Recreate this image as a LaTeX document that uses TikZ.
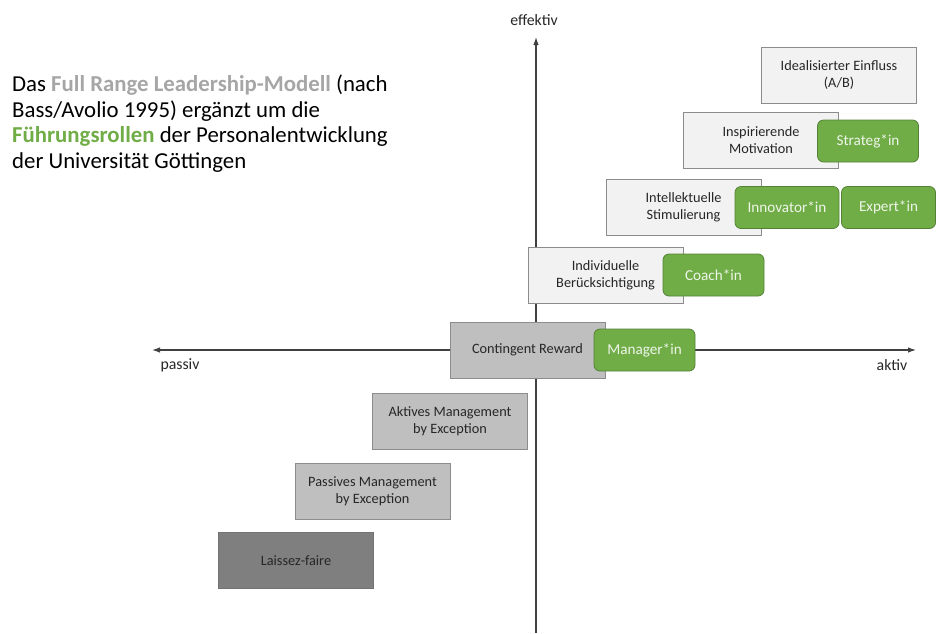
\documentclass[tikz,border=0pt]{standalone}
\usepackage{fontspec}
\setmainfont{Carlito}
\usetikzlibrary{arrows.meta}
\definecolor{boxgrey}{HTML}{F2F2F2}
\definecolor{midgrey}{HTML}{BFBFBF}
\definecolor{darkgrey}{HTML}{7F7F7F}
\definecolor{linegrey}{HTML}{8C8C8C}
\definecolor{axisgrey}{HTML}{404040}
\definecolor{rolegreen}{HTML}{70AD47}
\definecolor{rolegreenline}{HTML}{548235}
\definecolor{headgrey}{HTML}{A6A6A6}

\begin{document}
\begin{tikzpicture}[x=1pt,y=-1pt,
    stil/.style={draw=linegrey, line width=0.8pt, minimum width=155pt, minimum height=56pt,
      align=center, text=black!85, font=\fontsize{14.3}{17}\selectfont},
    rolle/.style={draw=rolegreenline, line width=0.8pt, fill=rolegreen, rounded corners=6pt,
      minimum width=101pt, minimum height=42pt, text=white!88!rolegreen,
      font=\fontsize{15.2}{18}\selectfont},
    achse/.style={draw=axisgrey, line width=1.1pt},
    pol/.style={text=black!85, font=\fontsize{15.8}{18}\selectfont}]
    \useasboundingbox (0,0) rectangle (936,633);

    % axes
    \coordinate (oben) at (536,37);
    \coordinate (unten) at (536,633);
    \coordinate (links) at (152,350);
    \coordinate (rechts) at (916,350);
    \draw[achse, -{Latex[length=8pt,width=5.5pt]}] (unten) -- (oben);
    \draw[achse, {Latex[length=8pt,width=5.5pt]}-{Latex[length=8pt,width=5.5pt]}] (links) -- (rechts);
    \node[pol] (effektiv) at (534,20) {effektiv};
    \node[pol] (passiv) at (180,365) {passiv};
    \node[pol] (aktiv) at (892,365) {aktiv};

    % title
    \node[anchor=north west, align=left, inner sep=0pt, font=\fontsize{22.8}{25.5}\selectfont] (titel) at (12,75)
      {Das \textcolor{headgrey}{\bfseries Full Range Leadership-Modell} (nach\\
       Bass/Avolio 1995) ergänzt um die\\
       \textcolor{rolegreen}{\bfseries Führungsrollen} der Personalentwicklung\\
       der Universität Göttingen};

    % leadership styles
    \node[stil, fill=boxgrey] (ideal) at (839,75.5) {Idealisierter Einfluss\\(A/B)};
    \node[stil, fill=boxgrey] (motiv) at (761,140.5) {Inspirierende\\Motivation};
    \node[stil, fill=boxgrey] (intell) at (683.5,207) {Intellektuelle\\Stimulierung};
    \node[stil, fill=boxgrey] (indiv) at (605.5,275.5) {Individuelle\\Berücksichtigung};
    \node[stil, fill=midgrey] (reward) at (527.5,350) {Contingent Reward};
    \node[stil, fill=midgrey] (mbea) at (450,421) {Aktives Management\\by Exception};
    \node[stil, fill=midgrey] (mbep) at (372.5,491) {Passives Management\\by Exception};
    \node[stil, fill=darkgrey, draw=black!55] (laissez) at (296,560.5) {Laissez-faire};

    % roles
    \node[rolle] (strateg) at (868,141) {Strateg*in};
    \node[rolle, minimum width=104pt] (innovator) at (787,207.5) {Innovator*in};
    \node[rolle, minimum width=94pt] (expert) at (888.5,207.5) {Expert*in};
    \node[rolle] (coach) at (713.5,275) {Coach*in};
    \node[rolle] (manager) at (644.5,350) {Manager*in};
\end{tikzpicture}
\end{document}
